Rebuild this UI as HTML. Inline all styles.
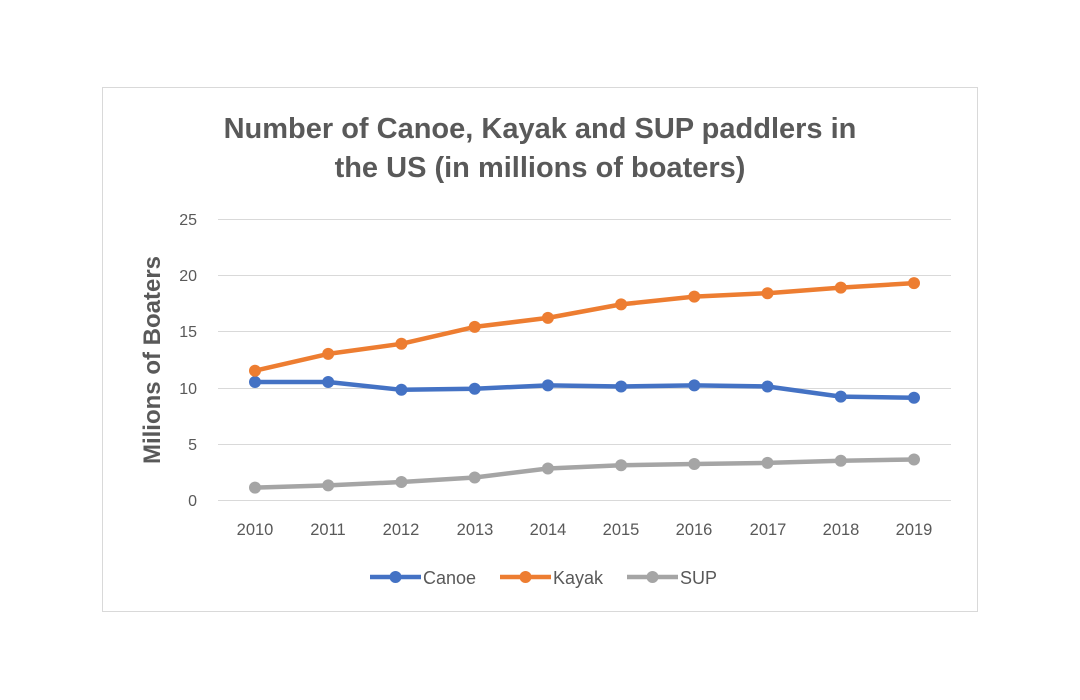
<!DOCTYPE html>
<html><head><style>body{margin:0;background:#fff}svg{display:block}</style></head>
<body>
<svg width="1080" height="700" xmlns="http://www.w3.org/2000/svg" font-family="Liberation Sans, sans-serif">
<rect x="0" y="0" width="1080" height="700" fill="#fff"/>
<rect x="102.5" y="87.5" width="875" height="524" fill="#fff" stroke="#d9d9d9" stroke-width="1"/>
<g fill="#595959" font-weight="bold" font-size="29" text-anchor="middle">
<text x="540" y="138">Number of Canoe, Kayak and SUP paddlers in</text>
<text x="540" y="177">the US (in millions of boaters)</text>
</g>
<text transform="translate(160,360) rotate(-90)" text-anchor="middle" font-size="24" font-weight="bold" fill="#595959">Milions of Boaters</text>
<g stroke="#d9d9d9" stroke-width="1">
<line x1="218" x2="951" y1="219.5" y2="219.5"/>
<line x1="218" x2="951" y1="275.5" y2="275.5"/>
<line x1="218" x2="951" y1="331.5" y2="331.5"/>
<line x1="218" x2="951" y1="388.5" y2="388.5"/>
<line x1="218" x2="951" y1="444.5" y2="444.5"/>
<line x1="218" x2="951" y1="500.5" y2="500.5"/>
</g>
<g fill="#595959" font-size="16" text-anchor="end">
<text x="197" y="225">25</text><text x="197" y="281">20</text><text x="197" y="337">15</text>
<text x="197" y="394">10</text><text x="197" y="450">5</text><text x="197" y="506">0</text>
</g>
<g fill="#595959" font-size="16.5" text-anchor="middle">
<text x="255" y="535">2010</text><text x="328" y="535">2011</text><text x="401" y="535">2012</text>
<text x="475" y="535">2013</text><text x="548" y="535">2014</text><text x="621" y="535">2015</text>
<text x="694" y="535">2016</text><text x="768" y="535">2017</text><text x="841" y="535">2018</text>
<text x="914" y="535">2019</text>
</g>
<g fill="none" stroke-width="4.5" stroke-linejoin="round">
<polyline stroke="#4472c4" points="255,382 328.2,382 401.4,389.8 474.7,388.7 547.9,385.4 621.1,386.5 694.3,385.4 767.5,386.5 840.8,396.6 914,397.7"/>
<polyline stroke="#ed7d31" points="255,370.7 328.2,353.9 401.4,343.8 474.7,326.9 547.9,317.9 621.1,304.4 694.3,296.6 767.5,293.2 840.8,287.6 914,283.1"/>
<polyline stroke="#a5a5a5" points="255,487.6 328.2,485.4 401.4,482 474.7,477.5 547.9,468.5 621.1,465.2 694.3,464 767.5,462.9 840.8,460.7 914,459.5"/>
</g>
<g fill="#4472c4">
<circle cx="255" cy="382" r="6"/><circle cx="328.2" cy="382" r="6"/><circle cx="401.4" cy="389.8" r="6"/><circle cx="474.7" cy="388.7" r="6"/><circle cx="547.9" cy="385.4" r="6"/><circle cx="621.1" cy="386.5" r="6"/><circle cx="694.3" cy="385.4" r="6"/><circle cx="767.5" cy="386.5" r="6"/><circle cx="840.8" cy="396.6" r="6"/><circle cx="914" cy="397.7" r="6"/>
</g>
<g fill="#ed7d31">
<circle cx="255" cy="370.7" r="6"/><circle cx="328.2" cy="353.9" r="6"/><circle cx="401.4" cy="343.8" r="6"/><circle cx="474.7" cy="326.9" r="6"/><circle cx="547.9" cy="317.9" r="6"/><circle cx="621.1" cy="304.4" r="6"/><circle cx="694.3" cy="296.6" r="6"/><circle cx="767.5" cy="293.2" r="6"/><circle cx="840.8" cy="287.6" r="6"/><circle cx="914" cy="283.1" r="6"/>
</g>
<g fill="#a5a5a5">
<circle cx="255" cy="487.6" r="6"/><circle cx="328.2" cy="485.4" r="6"/><circle cx="401.4" cy="482" r="6"/><circle cx="474.7" cy="477.5" r="6"/><circle cx="547.9" cy="468.5" r="6"/><circle cx="621.1" cy="465.2" r="6"/><circle cx="694.3" cy="464" r="6"/><circle cx="767.5" cy="462.9" r="6"/><circle cx="840.8" cy="460.7" r="6"/><circle cx="914" cy="459.5" r="6"/>
</g>
<g stroke-width="4.5">
<line x1="370" x2="421" y1="577" y2="577" stroke="#4472c4"/>
<line x1="500" x2="551" y1="577" y2="577" stroke="#ed7d31"/>
<line x1="627" x2="678" y1="577" y2="577" stroke="#a5a5a5"/>
</g>
<circle cx="395.5" cy="577" r="6" fill="#4472c4"/>
<circle cx="525.5" cy="577" r="6" fill="#ed7d31"/>
<circle cx="652.5" cy="577" r="6" fill="#a5a5a5"/>
<g fill="#595959" font-size="18">
<text x="423" y="584">Canoe</text><text x="553" y="584">Kayak</text><text x="680" y="584">SUP</text>
</g>
</svg>
</body></html>
